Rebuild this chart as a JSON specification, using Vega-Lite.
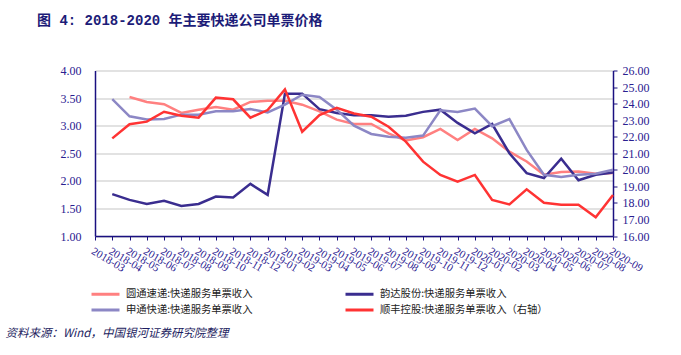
{
  "$schema": "https://vega.github.io/schema/vega-lite/v6.json",
  "width": 518,
  "height": 165.5,
  "autosize": {"type": "none"},
  "padding": {"left": 95, "top": 70.5, "right": 68, "bottom": 119},
  "background": "white",
  "title": {
    "text": "图 4: 2018-2020 年主要快递公司单票价格",
    "anchor": "start",
    "frame": "group",
    "dx": -58,
    "offset": 37,
    "font": "Liberation Mono, Noto Sans CJK SC",
    "fontSize": 14,
    "fontWeight": "bold",
    "color": "#1C1C78"
  },
  "config": {"view": {"stroke": null}},
  "data": {
    "values": [
      {"month": "2018-04", "yunda": 1.76, "shentong": 3.48, "sf": 21.9},
      {"month": "2018-05", "yuantong": 3.52, "yunda": 1.655, "shentong": 3.17, "sf": 22.75},
      {"month": "2018-06", "yuantong": 3.43, "yunda": 1.58, "shentong": 3.11, "sf": 22.91},
      {"month": "2018-07", "yuantong": 3.39, "yunda": 1.64, "shentong": 3.12, "sf": 23.51},
      {"month": "2018-08", "yuantong": 3.23, "yunda": 1.545, "shentong": 3.2, "sf": 23.27},
      {"month": "2018-09", "yuantong": 3.29, "yunda": 1.58, "shentong": 3.2, "sf": 23.15},
      {"month": "2018-10", "yuantong": 3.34, "yunda": 1.715, "shentong": 3.26, "sf": 24.36},
      {"month": "2018-11", "yuantong": 3.29, "yunda": 1.7, "shentong": 3.26, "sf": 24.26},
      {"month": "2018-12", "yuantong": 3.43, "yunda": 1.945, "shentong": 3.3, "sf": 23.15},
      {"month": "2019-01", "yuantong": 3.45, "yunda": 1.745, "shentong": 3.24, "sf": 23.61},
      {"month": "2019-02", "yuantong": 3.45, "yunda": 3.58, "shentong": 3.38, "sf": 24.86},
      {"month": "2019-03", "yuantong": 3.38, "yunda": 3.58, "shentong": 3.56, "sf": 22.3},
      {"month": "2019-04", "yuantong": 3.26, "yunda": 3.3, "shentong": 3.52, "sf": 23.31},
      {"month": "2019-05", "yuantong": 3.11, "yunda": 3.23, "shentong": 3.29, "sf": 23.75},
      {"month": "2019-06", "yuantong": 3.03, "yunda": 3.19, "shentong": 3.0, "sf": 23.4},
      {"month": "2019-07", "yuantong": 3.03, "yunda": 3.19, "shentong": 2.85, "sf": 23.21},
      {"month": "2019-08", "yuantong": 2.86, "yunda": 3.16, "shentong": 2.8, "sf": 22.6},
      {"month": "2019-09", "yuantong": 2.73, "yunda": 3.18, "shentong": 2.78, "sf": 21.7},
      {"month": "2019-10", "yuantong": 2.79, "yunda": 3.25, "shentong": 2.82, "sf": 20.49},
      {"month": "2019-11", "yuantong": 2.94, "yunda": 3.29, "shentong": 3.28, "sf": 19.69},
      {"month": "2019-12", "yuantong": 2.74, "yunda": 3.05, "shentong": 3.25, "sf": 19.28},
      {"month": "2020-01", "yuantong": 2.94, "yunda": 2.86, "shentong": 3.31, "sf": 19.69},
      {"month": "2020-02", "yuantong": 2.77, "yunda": 3.03, "shentong": 2.99, "sf": 18.18},
      {"month": "2020-03", "yuantong": 2.53, "yunda": 2.5, "shentong": 3.12, "sf": 17.91},
      {"month": "2020-04", "yuantong": 2.35, "yunda": 2.14, "shentong": 2.56, "sf": 18.82},
      {"month": "2020-05", "yuantong": 2.11, "yunda": 2.05, "shentong": 2.11, "sf": 18.01},
      {"month": "2020-06", "yuantong": 2.16, "yunda": 2.4, "shentong": 2.07, "sf": 17.89},
      {"month": "2020-07", "yuantong": 2.17, "yunda": 2.01, "shentong": 2.11, "sf": 17.89},
      {"month": "2020-08", "yuantong": 2.13, "yunda": 2.11, "shentong": 2.13, "sf": 17.13},
      {"month": "2020-09", "yuantong": 2.14, "yunda": 2.15, "shentong": 2.2, "sf": 18.48}
    ]
  },
  "encoding": {
    "x": {
      "field": "month",
      "type": "ordinal",
      "scale": {
        "type": "point",
        "padding": 0,
        "domain": ["2018-03","2018-04","2018-05","2018-06","2018-07","2018-08","2018-09","2018-10","2018-11","2018-12","2019-01","2019-02","2019-03","2019-04","2019-05","2019-06","2019-07","2019-08","2019-09","2019-10","2019-11","2019-12","2020-01","2020-02","2020-03","2020-04","2020-05","2020-06","2020-07","2020-08","2020-09"]
      },
      "axis": {
        "orient": "bottom",
        "labelAngle": 31,
        "labelAlign": "left",
        "labelBaseline": "top",
        "labelFont": "Liberation Serif",
        "labelFontSize": 11,
        "labelColor": "#2A2090",
        "labelOverlap": false,
        "labelBound": false,
        "labelPadding": 5,
        "tickSize": 4,
        "tickColor": "#1A1080",
        "domainColor": "#1A1080",
        "domainWidth": 1.5,
        "grid": false,
        "title": "资料来源：Wind，中国银河证券研究院整理",
        "titleX": -90,
        "titleY": 97,
        "titleAlign": "left",
        "titleAnchor": "start",
        "titleBaseline": "middle",
        "titleFont": "Noto Sans CJK SC",
        "titleFontStyle": "italic",
        "titleFontWeight": "normal",
        "titleFontSize": 11.5,
        "titleColor": "#1C1C60"
      }
    },
    "color": {
      "field": "series",
      "type": "nominal",
      "scale": {
        "domain": ["yuantong", "yunda", "shentong", "sf"],
        "range": ["#FF8080", "#3A2D8F", "#8C87C5", "#FF3333"]
      },
      "legend": {
        "orient": "none",
        "legendX": 2,
        "legendY": 215,
        "columns": 2,
        "direction": "horizontal",
        "title": null,
        "padding": 0,
        "symbolType": "M-2,0L2,0",
        "symbolSize": 196,
        "symbolStrokeWidth": 3,
        "labelOffset": 12,
        "columnPadding": 86,
        "rowPadding": 1,
        "labelFont": "Noto Sans CJK SC",
        "labelFontSize": 10.3,
        "labelColor": "#222222",
        "labelLimit": 0,
        "labelExpr": "datum.label == 'yuantong' ? '圆通速递:快递服务单票收入' : datum.label == 'yunda' ? '韵达股份:快递服务单票收入' : datum.label == 'shentong' ? '申通快递:快递服务单票收入' : '顺丰控股:快递服务单票收入（右轴）'"
      }
    }
  },
  "layer": [
    {
      "transform": [{"fold": ["yuantong", "yunda", "shentong"], "as": ["series", "value"]}],
      "mark": {"type": "line", "strokeWidth": 2.5},
      "encoding": {
        "y": {
          "field": "value",
          "type": "quantitative",
          "scale": {"domain": [1, 4], "nice": false, "zero": false},
          "axis": {
            "orient": "left",
            "values": [1, 1.5, 2, 2.5, 3, 3.5, 4],
            "format": ".2f",
            "grid": true,
            "gridColor": "#D9D9D9",
            "gridWidth": 1.5,
            "ticks": false,
            "tickSize": 0,
            "labelPadding": 14,
            "labelFont": "Liberation Serif",
            "labelFontSize": 12,
            "labelColor": "#2A2090",
            "domainColor": "#1A1080",
            "domainWidth": 1.5,
            "title": null
          }
        }
      }
    },
    {
      "transform": [{"fold": ["sf"], "as": ["series", "value"]}],
      "mark": {"type": "line", "strokeWidth": 2.5},
      "encoding": {
        "y": {
          "field": "value",
          "type": "quantitative",
          "scale": {"domain": [16, 26], "nice": false, "zero": false},
          "axis": {
            "orient": "right",
            "values": [16, 17, 18, 19, 20, 21, 22, 23, 24, 25, 26],
            "format": ".2f",
            "grid": false,
            "ticks": true,
            "tickSize": 4,
            "tickColor": "#1A1080",
            "labelPadding": 5,
            "labelFont": "Liberation Serif",
            "labelFontSize": 12,
            "labelColor": "#2A2090",
            "domainColor": "#1A1080",
            "domainWidth": 1.5,
            "title": null
          }
        }
      }
    }
  ],
  "resolve": {"scale": {"y": "independent"}}
}
